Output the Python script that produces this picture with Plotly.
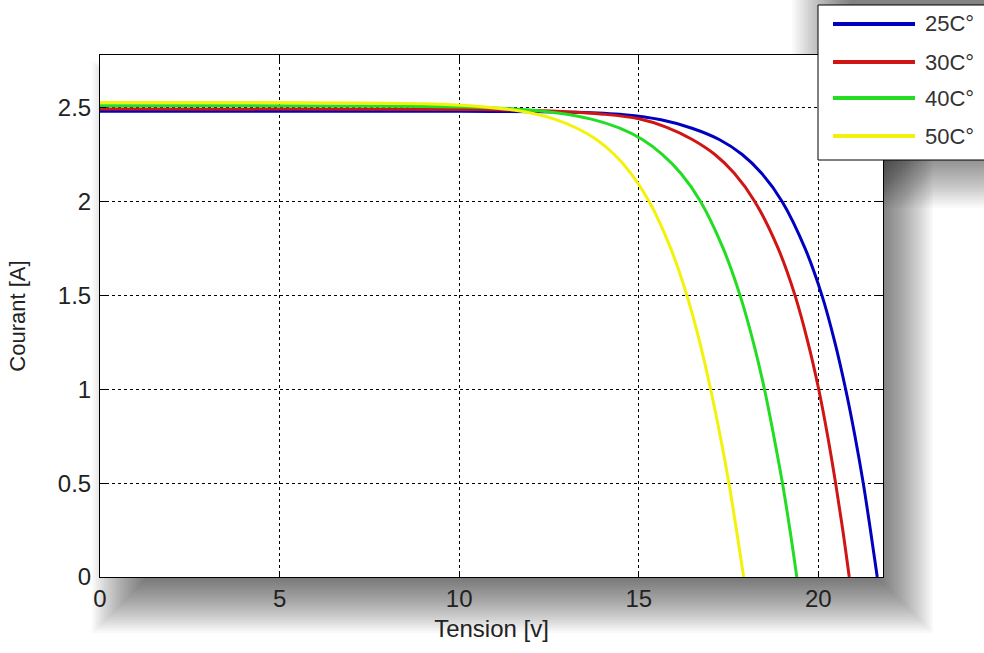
import plotly.graph_objects as go

# Tension (V) / courant (A) samples for each cell temperature
v_25 = [0, 10.0, 13.25, 14.59, 15.62, 16.48, 17.24, 17.88, 18.42, 18.99, 19.63, 20.10, 20.46, 20.76, 21.02, 21.25, 21.45, 21.64]
i_25 = [2.48, 2.48, 2.475, 2.462, 2.435, 2.39, 2.33, 2.25, 2.15, 2.0, 1.75, 1.5, 1.25, 1.0, 0.75, 0.5, 0.25, 0.0]

v_30 = [0, 10.28, 12.56, 14.0, 15.0, 15.78, 16.49, 17.12, 17.66, 18.23, 18.88, 19.35, 19.71, 20.01, 20.26, 20.48, 20.68, 20.86]
i_30 = [2.493, 2.49, 2.482, 2.465, 2.44, 2.395, 2.33, 2.25, 2.15, 2.0, 1.75, 1.5, 1.25, 1.0, 0.75, 0.5, 0.25, 0.0]

v_40 = [0, 10.16, 11.75, 12.80, 13.65, 14.47, 15.10, 15.66, 16.17, 16.72, 17.35, 17.82, 18.19, 18.50, 18.76, 19.00, 19.21, 19.40]
i_40 = [2.51, 2.503, 2.49, 2.47, 2.44, 2.39, 2.33, 2.25, 2.15, 2.0, 1.75, 1.5, 1.25, 1.0, 0.75, 0.5, 0.25, 0.0]

v_50 = [0, 9.01, 10.65, 11.74, 12.63, 13.28, 13.82, 14.32, 14.78, 15.29, 15.89, 16.34, 16.70, 17.00, 17.27, 17.51, 17.72, 17.92]
i_50 = [2.527, 2.52, 2.505, 2.48, 2.44, 2.39, 2.33, 2.25, 2.15, 2.0, 1.75, 1.5, 1.25, 1.0, 0.75, 0.5, 0.25, 0.0]

labels = ["25C°", "30C°", "40C°", "50C°"]
colors = ["#0000bf", "#d01515", "#22dd22", "#f2f20a"]

x_ticks = [0, 5, 10, 15, 20]
y_ticks = [0, 0.5, 1, 1.5, 2, 2.5]
y_tick_text = ["0", "0.5", "1", "1.5", "2", "2.5"]

W, H = 984, 653
L, R, T, B = 100, 101, 55, 76
PW, PH = W - L - R, H - T - B


def px_x(x):
    return (x - L) / PW


def px_y(y):
    return (H - B - y) / PH


def soft_shadow(x0, y0, x1, y1, steps=30, spread=2, alpha=0.022):
    """Stack of translucent boxes that reads as a blurred drop shadow."""
    shapes = []
    for k in range(steps):
        d = k * spread
        shapes.append(dict(type="rect", xref="paper", yref="paper", layer="below",
                           x0=px_x(x0 - d), x1=px_x(x1 + d),
                           y0=px_y(y1 + d), y1=px_y(y0 - d),
                           fillcolor=f"rgba(0,0,0,{alpha})", line=dict(width=0)))
    return shapes


fig = go.Figure()
series = [(v_25, i_25), (v_30, i_30), (v_40, i_40), (v_50, i_50)]
for (v, i), name, col in zip(series, labels, colors):
    fig.add_trace(go.Scatter(x=v, y=i, mode="lines", name=name, showlegend=False,
                             line=dict(color=col, width=3, shape="spline", smoothing=1.0)))

shapes = []
shapes += soft_shadow(150, 120, 875, 575)
shapes += soft_shadow(850, -20, 1010, 150, alpha=0.02)
# white plot face over the shadow
shapes.append(dict(type="rect", xref="paper", yref="paper", layer="below",
                   x0=0, x1=1, y0=0, y1=1, fillcolor="white", line=dict(width=0)))

# legend box with sample lines
leg_x0, leg_x1, leg_y0, leg_y1 = 818, 1000, 5, 160
row_y = [24, 62, 98, 136]
shapes.append(dict(type="rect", xref="paper", yref="paper", layer="above",
                   x0=px_x(leg_x0), x1=px_x(leg_x1), y0=px_y(leg_y1), y1=px_y(leg_y0),
                   fillcolor="white", line=dict(color="black", width=1)))
annotations = []
for name, col, ry in zip(labels, colors, row_y):
    shapes.append(dict(type="line", xref="paper", yref="paper", layer="above",
                       x0=px_x(833), x1=px_x(915), y0=px_y(ry), y1=px_y(ry),
                       line=dict(color=col, width=4)))
    annotations.append(dict(xref="paper", yref="paper", x=px_x(923), y=px_y(ry),
                            text=name, showarrow=False, xanchor="left", yanchor="middle",
                            font=dict(size=22, color="#333333")))

font_col = "#222222"
axis_common = dict(showline=True, linecolor="black", linewidth=1, mirror="ticks",
                   ticks="inside", ticklen=6, tickcolor="black",
                   showgrid=True, gridcolor="black", gridwidth=1, griddash="3px,3px",
                   zeroline=False, automargin=False)

fig.update_layout(
    width=W, height=H,
    margin=dict(l=L, r=R, t=T, b=B, autoexpand=False),
    paper_bgcolor="white", plot_bgcolor="rgba(0,0,0,0)",
    font=dict(family="Liberation Sans, Arial, sans-serif", size=23, color=font_col),
    xaxis=dict(range=[0, 21.8], tickvals=x_ticks, tickfont=dict(size=24, color=font_col),
               title=dict(text="Tension [v]", standoff=9, font=dict(size=24, color=font_col)),
               **axis_common),
    yaxis=dict(range=[0, 2.78], tickvals=y_ticks, ticktext=y_tick_text,
               tickfont=dict(size=24, color=font_col), ticklabelstandoff=3,
               title=dict(text="Courant [A]", standoff=26, font=dict(size=22, color=font_col)),
               **axis_common),
    showlegend=False,
    shapes=shapes,
    annotations=annotations,
)

fig.write_html("out.html")
